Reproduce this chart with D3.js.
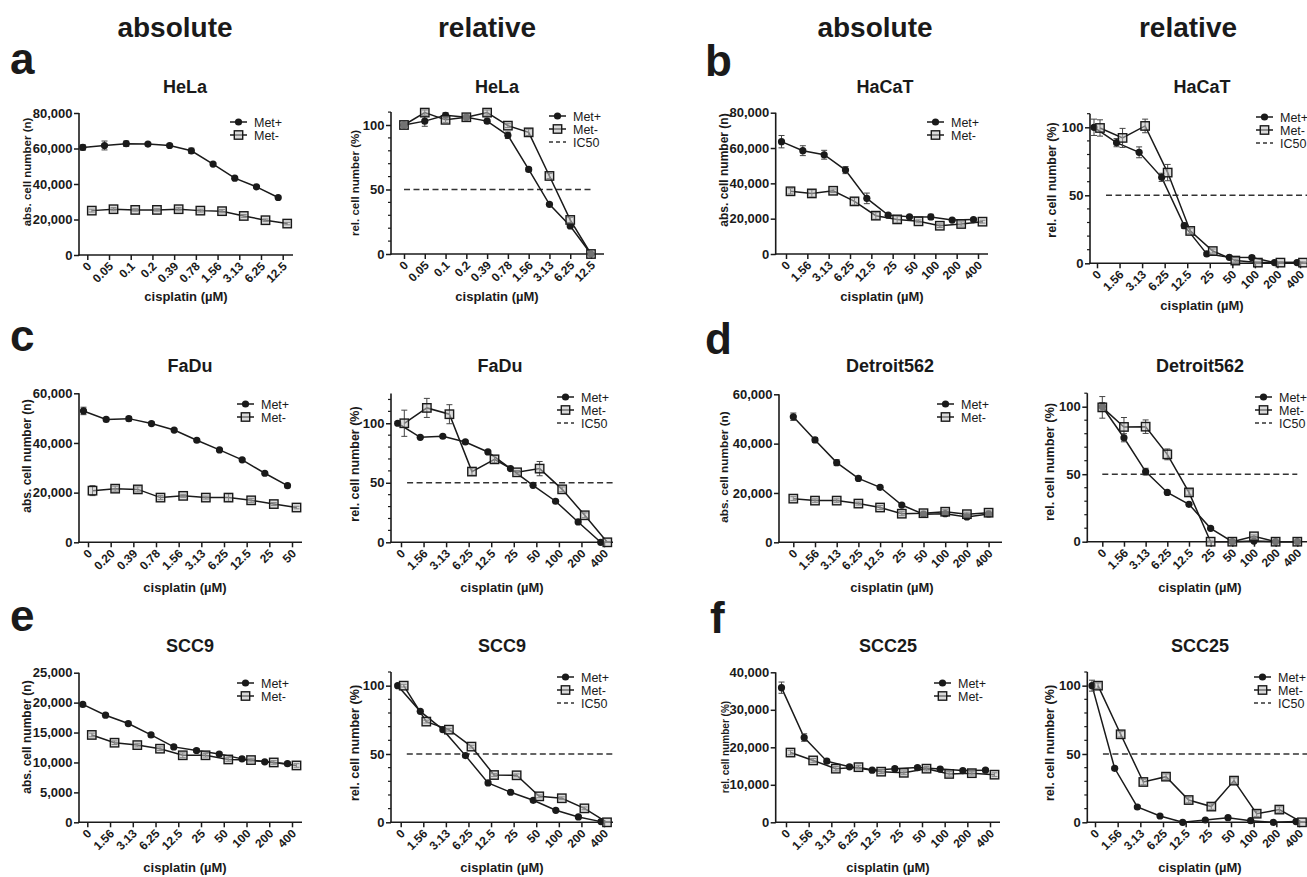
<!DOCTYPE html>
<html><head><meta charset="utf-8">
<script src="https://cdn.jsdelivr.net/npm/d3@7"></script>
<style>
body{margin:0;background:#fff}
svg{display:block}
text{font-family:"Liberation Sans", Arial, Helvetica, sans-serif}
</style>
</head><body>
<svg id="c" width="1307" height="877"></svg>
<script>
// ---------- categories / tick labels ----------
const concHeLa = ["0","0.05","0.1","0.2","0.39","0.78","1.56","3.13","6.25","12.5"];
const concFaDuAbs = ["0","0.20","0.39","0.78","1.56","3.13","6.25","12.5","25","50"];
const concWide = ["0","1.56","3.13","6.25","12.5","25","50","100","200","400"];
const seriesNames = ["Met+","Met-"];
const ic50Name = "IC50";
const ic50Value = 50;
const absTicks80 = [0,20000,40000,60000,80000];
const absTicks60 = [0,20000,40000,60000];
const absTicks40 = [0,10000,20000,30000,40000];
const absTicks25 = [0,5000,10000,15000,20000,25000];
const relTicks = [0,50,100];

// ---------- HeLa ----------
const helaAbsPlus = [60600,61700,62700,62500,61700,58700,51200,43300,38400,32400];
const helaAbsPlusErr = [1500,2500,1500,600,800,1500,800,700,700,800];
const helaAbsMinus = [25000,25800,25400,25400,25800,25000,24700,22000,19600,17700];
const helaAbsMinusErr = [800,900,700,700,900,800,900,800,700,700];
const helaRelPlus = [100,103,107.5,106,103,92,65.6,38.5,21.7,0];
const helaRelPlusErr = [2,4,2,1.5,1.5,2.5,1.5,1,1,0.5];
const helaRelMinus = [100,109.6,104,106,109.6,99.5,94.3,60.5,26.4,0];
const helaRelMinusErr = [2,2,2,2,2,1.5,2.5,2,2,0.5];

// ---------- HaCaT ----------
const hacatAbsPlus = [63600,58500,56200,47500,31500,22000,21100,21000,19200,19500];
const hacatAbsPlusErr = [3500,2800,2500,2000,3000,1000,800,1500,800,800];
const hacatAbsMinus = [35500,34300,35800,29800,21700,19600,18500,16000,17000,18300];
const hacatAbsMinusErr = [1500,2000,1000,2000,2000,2000,800,1000,1200,800];
const hacatRelPlus = [100,88.7,81.6,63.2,27.7,6.9,4.4,4.2,0.5,0.5];
const hacatRelPlusErr = [6,3,4,3,2,1,1,1,0.5,0.5];
const hacatRelMinus = [99.5,92.2,101,66.7,23.8,9,2,0.5,0.5,0.5];
const hacatRelMinusErr = [6,7,5,6,2,1.5,1,0.5,0.5,0.5];

// ---------- FaDu ----------
const fadu_AbsPlus = [52900,49500,49800,47800,45200,41100,37200,33200,27800,22800];
const fadu_AbsPlusErr = [1500,500,900,700,500,500,600,500,600,500];
const fadu_AbsMinus = [20800,21600,21300,18000,18700,18000,18000,16900,15400,14000];
const fadu_AbsMinusErr = [2000,1000,1000,800,600,600,1500,800,600,500];
const fadu_RelPlus = [100,88.2,89.1,84.3,75.9,61.9,47.9,34.5,17.1,0];
const fadu_RelPlusErr = [1.5,1,1,1,1,1,1,1,1,0.5];
const fadu_RelMinus = [100,112.9,107.6,59.4,69.7,58.8,61.9,44.5,22.7,0];
const fadu_RelMinusErr = [11,8,8,3,3,1.5,6,2,2,0.5];

// ---------- Detroit562 ----------
const detAbsPlus = [50900,41500,32300,25900,22300,15100,11400,11600,10300,11500];
const detAbsPlusErr = [1500,1000,1200,600,600,600,500,600,800,500];
const detAbsMinus = [17700,16900,16900,15700,14100,11600,11800,12400,11400,12000];
const detAbsMinusErr = [800,700,700,600,800,800,800,800,800,700];
const detRelPlus = [100,77,51.9,36.5,27.7,9.9,0,0.5,0,0];
const detRelPlusErr = [3,3,2.5,1,1,1,0.5,0.5,0.5,0.5];
const detRelMinus = [99.5,85,85.2,64.7,36.5,0,0,4,0,0];
const detRelMinusErr = [8,7,5,4,2,0.5,0.5,1,0.5,0.5];

// ---------- SCC9 ----------
const scc9AbsPlus = [19700,17900,16500,14600,12600,12000,11400,10600,10100,9800];
const scc9AbsPlusErr = [200,300,300,300,300,300,300,300,200,300];
const scc9AbsMinus = [14600,13300,12900,12300,11200,11200,10500,10400,10000,9500];
const scc9AbsMinusErr = [300,300,300,300,400,300,300,300,300,300];
const scc9RelPlus = [100,81.2,67.8,48.8,28.8,22,16.1,8.8,3.9,0.5];
const scc9RelPlusErr = [1,1,1,1,1,1,1,1,1,0.5];
const scc9RelMinus = [100,73.7,67.8,55.4,34.6,34.4,19,17.6,10.2,0];
const scc9RelMinusErr = [1,1,1,1,1,1,1,1,1,0.5];

// ---------- SCC25 ----------
const scc25AbsPlus = [35900,22600,16300,14800,13900,14300,14600,14200,13800,13900];
const scc25AbsPlusErr = [1500,1000,500,500,400,500,500,500,400,400];
const scc25AbsMinus = [18600,16500,14300,14700,13500,13200,14300,12900,13100,12700];
const scc25AbsMinusErr = [600,500,600,500,500,500,600,600,500,500];
const scc25RelPlus = [100,39.5,11.2,4.6,0,1.7,3.4,1.2,0,0.5];
const scc25RelPlusErr = [4,1,1,1,0.5,0.5,0.5,0.5,0.5,0.5];
const scc25RelMinus = [100,64.4,29.5,33.4,16.3,11.5,30.5,6.3,9.3,0];
const scc25RelMinusErr = [2,2,2,2,2,2,2,2,2,0.5];

// ---------- layout (positions / sizes only) ----------
const ABS_LAB = "abs. cell number (n)";
const REL_LAB = "rel. cell number (%)";
const panels = [
 {title:"HeLa", cats:concHeLa, p:helaAbsPlus, pe:helaAbsPlusErr, m:helaAbsMinus, me:helaAbsMinusErr, ticks:absTicks80, rel:false, ylab:ABS_LAB,
  x0:79,x1:293,t0:87.3,t1:282.7,y0:255,yTopPx:113,yTopVal:80000,dodge:4.5,tx:185,ty:93,ylx:27,yly:172,ylfs:11.5,xlx:186,xly:301,lx:230,ly:122},
 {title:"HeLa", cats:concHeLa, p:helaRelPlus, pe:helaRelPlusErr, m:helaRelMinus, me:helaRelMinusErr, ticks:relTicks, rel:true, ylab:REL_LAB,
  x0:391,x1:604,t0:404,t1:591,y0:254,yTopPx:112.1,yTopVal:110,dodge:0,tx:497,ty:93,ylx:355,yly:183,ylfs:11.5,xlx:497,xly:301,lx:549,ly:116,ic:[0,9]},
 {title:"HaCaT", cats:concWide, p:hacatAbsPlus, pe:hacatAbsPlusErr, m:hacatAbsMinus, me:hacatAbsMinusErr, ticks:absTicks80, rel:false, ylab:ABS_LAB,
  x0:775.7,x1:988,t0:786,t1:978,y0:254,yTopPx:112.7,yTopVal:80000,dodge:4.5,tx:885,ty:93,ylx:724,yly:170,ylfs:12,xlx:882,xly:301,lx:927,ly:122},
 {title:"HaCaT", cats:concWide, p:hacatRelPlus, pe:hacatRelPlusErr, m:hacatRelMinus, me:hacatRelMinusErr, ticks:relTicks, rel:true, ylab:REL_LAB,
  x0:1090,x1:1307,t0:1097,t1:1300,y0:263.3,yTopPx:113.7,yTopVal:110,dodge:3,tx:1202,ty:93,ylx:1052,yly:180,ylfs:12.5,xlx:1202,xly:310,lx:1256,ly:117,ic:[0.4,9.7]},
 {title:"FaDu", cats:concFaDuAbs, p:fadu_AbsPlus, pe:fadu_AbsPlusErr, m:fadu_AbsMinus, me:fadu_AbsMinusErr, ticks:absTicks60, rel:false, ylab:ABS_LAB,
  x0:79,x1:302,t0:88,t1:292,y0:542.3,yTopPx:393.3,yTopVal:60000,dodge:4.5,tx:190,ty:372,ylx:27,yly:456,ylfs:12,xlx:185,xly:592,lx:237,ly:404},
 {title:"FaDu", cats:concWide, p:fadu_RelPlus, pe:fadu_RelPlusErr, m:fadu_RelMinus, me:fadu_RelMinusErr, ticks:relTicks, rel:true, ylab:REL_LAB,
  x0:391,x1:613,t0:401,t1:604,y0:542.3,yTopPx:393.5,yTopVal:125,dodge:3.3,tx:500,ty:372,ylx:355,yly:464,ylfs:12.5,xlx:502,xly:592,lx:557,ly:397,ic:[0.27,9.45]},
 {title:"Detroit562", cats:concWide, p:detAbsPlus, pe:detAbsPlusErr, m:detAbsMinus, me:detAbsMinusErr, ticks:absTicks60, rel:false, ylab:ABS_LAB,
  x0:779,x1:1002,t0:793.3,t1:988.6,y0:542.3,yTopPx:394.3,yTopVal:60000,dodge:0,tx:890,ty:372,ylx:724,yly:467,ylfs:11.8,xlx:892,xly:592,lx:937,ly:404},
 {title:"Detroit562", cats:concWide, p:detRelPlus, pe:detRelPlusErr, m:detRelMinus, me:detRelMinusErr, ticks:relTicks, rel:true, ylab:REL_LAB,
  x0:1087.3,x1:1307,t0:1102.3,t1:1297.3,y0:541.7,yTopPx:393.2,yTopVal:110,dodge:0,tx:1200,ty:372,ylx:1050,yly:462,ylfs:12.8,xlx:1200,xly:592,lx:1255,ly:397,ic:[0,9]},
 {title:"SCC9", cats:concWide, p:scc9AbsPlus, pe:scc9AbsPlusErr, m:scc9AbsMinus, me:scc9AbsMinusErr, ticks:absTicks25, rel:false, ylab:ABS_LAB,
  x0:79,x1:302,t0:87.3,t1:292,y0:822.3,yTopPx:672.7,yTopVal:25000,dodge:4.5,tx:190,ty:652,ylx:27,yly:737,ylfs:12,xlx:185,xly:872,lx:237,ly:683},
 {title:"SCC9", cats:concWide, p:scc9RelPlus, pe:scc9RelPlusErr, m:scc9RelMinus, me:scc9RelMinusErr, ticks:relTicks, rel:true, ylab:REL_LAB,
  x0:391,x1:613,t0:400.7,t1:604,y0:822.3,yTopPx:672,yTopVal:110,dodge:3,tx:502,ty:652,ylx:355,yly:743,ylfs:12.6,xlx:502,xly:872,lx:557,ly:677,ic:[0.27,9.45]},
 {title:"SCC25", cats:concWide, p:scc25AbsPlus, pe:scc25AbsPlusErr, m:scc25AbsMinus, me:scc25AbsMinusErr, ticks:absTicks40, rel:false, ylab:REL_LAB,
  x0:775.7,x1:1000,t0:786,t1:990,y0:822.3,yTopPx:672.3,yTopVal:40000,dodge:4.5,tx:888,ty:652,ylx:725,yly:747,ylfs:10,xlx:888,xly:872,lx:934,ly:683},
 {title:"SCC25", cats:concWide, p:scc25RelPlus, pe:scc25RelPlusErr, m:scc25RelMinus, me:scc25RelMinusErr, ticks:relTicks, rel:true, ylab:REL_LAB,
  x0:1087.3,x1:1307,t0:1095,t1:1299,y0:822.3,yTopPx:672,yTopVal:110,dodge:3,tx:1200,ty:652,ylx:1050,yly:743,ylfs:12.6,xlx:1200,xly:872,lx:1254,ly:677,ic:[0.35,9.7]}
];

const headers = [{t:"absolute",x:175},{t:"relative",x:487},{t:"absolute",x:875},{t:"relative",x:1188}];
const letters = [{t:"a",x:10,y:74},{t:"b",x:705,y:76},{t:"c",x:10,y:351},{t:"d",x:705,y:354},{t:"e",x:10,y:631},{t:"f",x:710,y:633}];

const svg = d3.select("#c");
const INK = "#1a1a1a";

headers.forEach(h => svg.append("text").attr("x",h.x).attr("y",37).attr("text-anchor","middle")
  .attr("font-size",28).attr("font-weight","bold").attr("fill",INK).text(h.t));
letters.forEach(l => svg.append("text").attr("x",l.x).attr("y",l.y)
  .attr("font-size",44).attr("font-weight","bold").attr("fill",INK).text(l.t));

function squareSym(g, cx, cy){
  g.append("rect").attr("x",cx-4.2).attr("y",cy-4.2).attr("width",8.4).attr("height",8.4)
    .attr("fill","rgba(190,190,190,0.55)").attr("stroke",INK).attr("stroke-width",1.4);
}
function circleSym(g, cx, cy){
  g.append("circle").attr("cx",cx).attr("cy",cy).attr("r",3.6).attr("fill",INK);
}

panels.forEach(P => {
  const g = svg.append("g");
  const x = d3.scalePoint().domain(P.cats).range([P.t0, P.t1]);
  const y = d3.scaleLinear().domain([0, P.yTopVal]).range([P.y0, P.yTopPx]);

  // title
  g.append("text").attr("x",P.tx).attr("y",P.ty).attr("text-anchor","middle")
    .attr("font-size",18).attr("font-weight","bold").attr("fill",INK).text(P.title);

  // y axis
  const fmt = P.rel ? d3.format("d") : d3.format(",");
  const ya = g.append("g").attr("transform",`translate(${P.x0},0)`)
    .call(d3.axisLeft(y).tickValues(P.ticks).tickFormat(fmt).tickSize(5).tickPadding(1.5).tickSizeOuter(0));
  ya.select(".domain").remove();
  ya.selectAll(".tick line").attr("stroke",INK).attr("stroke-width",1.5);
  ya.selectAll(".tick text").attr("font-size",13).attr("font-weight","bold").attr("fill",INK)
    .style("font-family",'"Liberation Sans", Arial, sans-serif');
  if (P.rel) {
    const minor = d3.range(10, P.yTopVal + 0.01, 10).filter(v => v % 50 !== 0);
    g.selectAll(null).data(minor).enter().append("line")
      .attr("x1",P.x0-3).attr("x2",P.x0).attr("y1",d=>y(d)).attr("y2",d=>y(d))
      .attr("stroke",INK).attr("stroke-width",1.2);
  }
  g.append("line").attr("x1",P.x0).attr("x2",P.x0).attr("y1",y(0)+0.75).attr("y2",y(P.yTopVal))
    .attr("stroke",INK).attr("stroke-width",1.6);

  // x axis
  const xa = g.append("g").attr("transform",`translate(0,${P.y0})`)
    .call(d3.axisBottom(x).tickSize(5).tickSizeOuter(0));
  xa.select(".domain").remove();
  xa.selectAll(".tick line").attr("stroke",INK).attr("stroke-width",1.5);
  xa.selectAll(".tick text").remove();
  g.append("line").attr("x1",P.x0-0.75).attr("x2",P.x1).attr("y1",P.y0).attr("y2",P.y0)
    .attr("stroke",INK).attr("stroke-width",1.6);
  g.selectAll(null).data(P.cats).enter().append("text")
    .attr("transform", d => `translate(${x(d)+2},${P.y0+9}) rotate(-45)`)
    .attr("text-anchor","end").attr("dy","0.35em")
    .attr("font-size",12).attr("font-weight","bold").attr("fill",INK).text(d=>d);

  // axis labels
  g.append("text").attr("transform",`translate(${P.ylx},${P.yly}) rotate(-90)`)
    .attr("text-anchor","middle").attr("dy","0.35em")
    .attr("font-size",P.ylfs).attr("font-weight","bold").attr("fill",INK).text(P.ylab);
  g.append("text").attr("x",P.xlx).attr("y",P.xly).attr("text-anchor","middle")
    .attr("font-size",13).attr("font-weight","bold").attr("fill",INK).text("cisplatin (µM)");

  // IC50
  if (P.ic) {
    const step = x.step();
    g.append("line").attr("x1",P.t0 + P.ic[0]*step).attr("x2",Math.min(1307, P.t0 + P.ic[1]*step))
      .attr("y1",y(ic50Value)).attr("y2",y(ic50Value))
      .attr("stroke","#333").attr("stroke-width",1.6).attr("stroke-dasharray","6,3.5");
  }

  const series = [
    {vals:P.p, errs:P.pe, off:-P.dodge, sym:"c"},
    {vals:P.m, errs:P.me, off:P.dodge, sym:"s"}
  ];
  series.forEach(S => {
    const pts = P.cats.map((c,i)=>({x:x(c)+S.off, v:S.vals[i], e:S.errs[i]}));
    g.append("path").datum(pts)
      .attr("d", d3.line().x(d=>d.x).y(d=>y(d.v)))
      .attr("fill","none").attr("stroke",INK).attr("stroke-width",1.5);
    const eb = g.append("g");
    pts.forEach(d => {
      const yl = y(Math.max(0,d.v-d.e)), yh = y(d.v+d.e);
      eb.append("line").attr("x1",d.x).attr("x2",d.x).attr("y1",yl).attr("y2",yh).attr("stroke","#444").attr("stroke-width",1);
      eb.append("line").attr("x1",d.x-3).attr("x2",d.x+3).attr("y1",yh).attr("y2",yh).attr("stroke","#444").attr("stroke-width",1);
      eb.append("line").attr("x1",d.x-3).attr("x2",d.x+3).attr("y1",yl).attr("y2",yl).attr("stroke","#444").attr("stroke-width",1);
    });
  });
  series.forEach(S => {
    P.cats.forEach((c,i) => {
      const cx = x(c)+S.off, cy = y(S.vals[i]);
      if (S.sym === "c") circleSym(g, cx, cy); else squareSym(g, cx, cy);
    });
  });

  // legend
  const rows = P.rel ? [seriesNames[0], seriesNames[1], ic50Name] : [seriesNames[0], seriesNames[1]];
  rows.forEach((name,i) => {
    const yy = P.ly + i*13;
    if (name === ic50Name) {
      g.append("line").attr("x1",P.lx).attr("x2",P.lx+17).attr("y1",yy).attr("y2",yy)
        .attr("stroke","#333").attr("stroke-width",1.5).attr("stroke-dasharray","4,3");
    } else {
      g.append("line").attr("x1",P.lx).attr("x2",P.lx+17).attr("y1",yy).attr("y2",yy)
        .attr("stroke",INK).attr("stroke-width",1.5);
      if (i === 0) circleSym(g, P.lx+8.5, yy); else squareSym(g, P.lx+8.5, yy);
    }
    g.append("text").attr("x",P.lx+24).attr("y",yy+4.5).attr("font-size",12.5).attr("fill",INK).text(name);
  });
});
</script>
</body></html>
